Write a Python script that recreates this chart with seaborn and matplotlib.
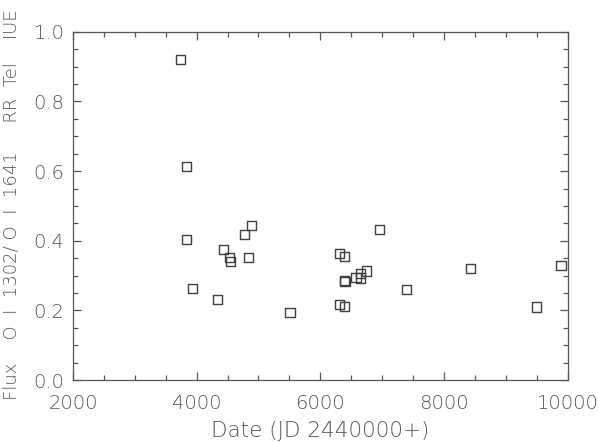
import matplotlib
matplotlib.use('Agg')
import matplotlib.pyplot as plt
from matplotlib.ticker import MultipleLocator
import seaborn as sns
import numpy as np

# IUE observations of RR Tel, O I line ratio
date = [3737, 3839, 3839, 3937, 4343, 4440, 4538, 4554, 4776, 4834, 4894,
        5511, 6318, 6388, 6394, 6400, 6318, 6388, 6578, 6648, 6648, 6745,
        6962, 7390, 8433, 9500, 9895]
ratio = [0.921, 0.614, 0.404, 0.263, 0.232, 0.376, 0.353, 0.341, 0.419, 0.353, 0.445,
         0.195, 0.364, 0.356, 0.286, 0.283, 0.216, 0.212, 0.295, 0.305, 0.293, 0.313,
         0.433, 0.261, 0.321, 0.210, 0.328]

sns.set_style('ticks')
plt.rcParams['font.family'] = ['DejaVu Sans']
plt.rcParams['font.weight'] = 'light'
plt.rcParams['axes.labelweight'] = 'light'
grey = '#555555'

fig = plt.figure(figsize=(5.98, 4.42), dpi=100)
ax = fig.add_axes([0.122, 0.140, 0.827, 0.788])

sns.scatterplot(x=date, y=ratio, marker='s', s=44, facecolor='none',
                edgecolor='#404040', linewidth=1.0, ax=ax)

ax.set_xlim(2000, 10000)
ax.set_ylim(0.0, 1.0)
ax.xaxis.set_major_locator(MultipleLocator(2000))
ax.xaxis.set_minor_locator(MultipleLocator(500))
ax.yaxis.set_major_locator(MultipleLocator(0.2))
ax.yaxis.set_minor_locator(MultipleLocator(0.05))
ax.yaxis.set_major_formatter(matplotlib.ticker.FormatStrFormatter('%.1f'))

ax.tick_params(which='both', direction='in', top=True, right=True,
               color=grey, width=0.9, labelcolor=grey, labelsize=14)
ax.tick_params(which='major', length=6)
ax.tick_params(which='minor', length=3.6)
ax.tick_params(axis='y', pad=6)
ax.tick_params(axis='x', pad=10)
for sp in ax.spines.values():
    sp.set_color(grey)
    sp.set_linewidth(0.9)

ax.set_xlabel('Date (JD 2440000+)', color=grey, fontsize=15.5, fontweight='light')
ax.xaxis.set_label_coords(0.5, -0.118)
ax.set_ylabel('Flux    O  I  1302/ O  I  1641     RR  Tel    IUE',
              color=grey, fontsize=13, fontweight='light')
ax.yaxis.set_label_coords(-0.106, 0.503)

fig.savefig('out.png', dpi=100)
